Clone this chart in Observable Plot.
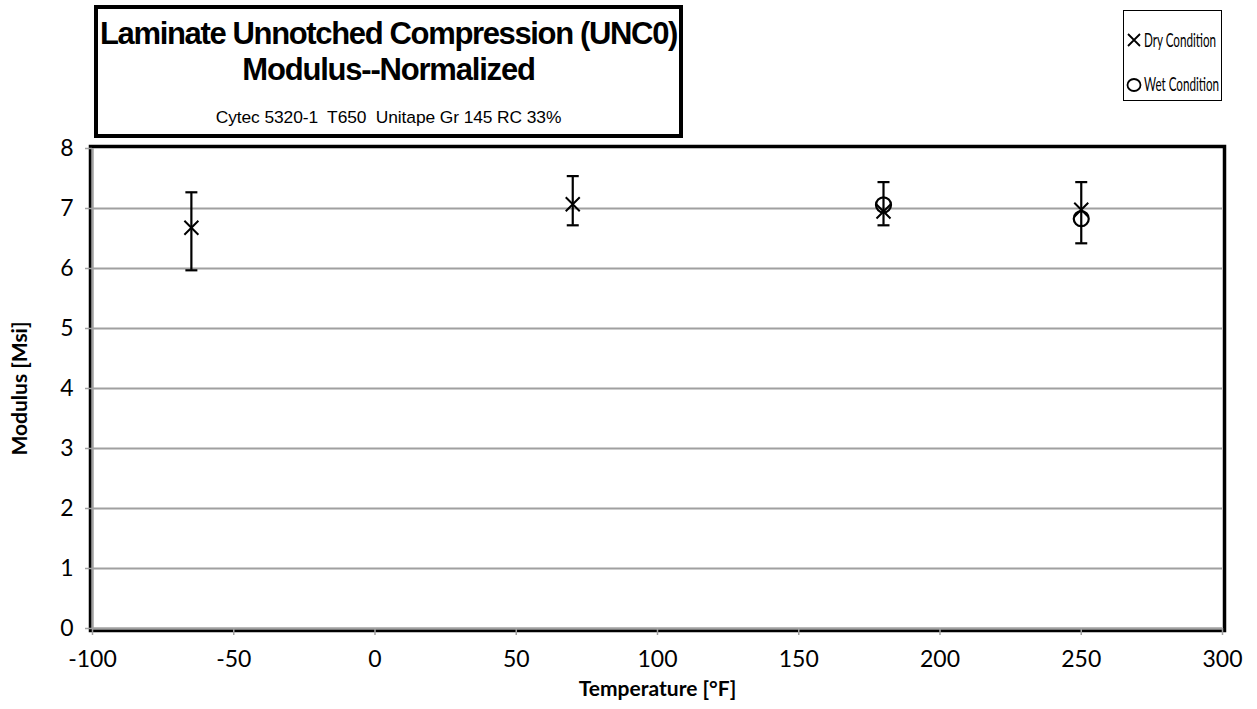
<!DOCTYPE html>
<html>
<head>
<meta charset="utf-8">
<script src="https://cdn.jsdelivr.net/npm/d3@7"></script>
<script src="https://cdn.jsdelivr.net/npm/@observablehq/plot@0.6"></script>
<style>
  html, body { margin: 0; padding: 0; background: #fff; }
  #wrap { position: relative; width: 1257px; height: 709px; overflow: hidden; }
  #wrap > svg { position: absolute; left: 0; top: 0; }
  #titlebox {
    position: absolute; left: 94px; top: 5px; width: 581px; height: 125px;
    border: 4.5px solid #000; background: #fff; text-align: center;
    font-family: "Liberation Sans", Arial, sans-serif; color: #000;
  }
  #titlebox .t1 { font-weight: bold; font-size: 31px; line-height: 36px; margin-top: 7px; letter-spacing: -1.35px; white-space: nowrap; }
  #titlebox .t2 { font-weight: bold; font-size: 31px; line-height: 36px; letter-spacing: -1.2px; }
  #titlebox .t3 { font-size: 17.4px; line-height: 24px; margin-top: 17px; white-space: pre; letter-spacing: -0.1px; }
  #legend {
    position: absolute; left: 1123px; top: 10px; width: 97px; height: 89px;
    border: 1.5px solid #000; background: #fff;
  }
  #legend svg { position: absolute; left: 0; top: 0; }
</style>
</head>
<body>
<div id="wrap">
  <div id="titlebox">
    <div class="t1">Laminate Unnotched Compression (UNC0)</div>
    <div class="t2">Modulus--Normalized</div>
    <div class="t3">Cytec 5320-1  T650  Unitape Gr 145 RC 33%</div>
  </div>
  <div id="legend">
    <svg width="97" height="89" font-family="Lato, 'Open Sans', sans-serif" font-size="18.5">
      <path d="M4,23L16,35M4,35L16,23" stroke="#000" stroke-width="1.8"/>
      <g transform="translate(20,36) scale(0.63,1)"><text x="0" y="0">Dry Condition</text></g>
      <ellipse cx="10" cy="74" rx="6.5" ry="6" fill="none" stroke="#000" stroke-width="1.8"/>
      <g transform="translate(20,80) scale(0.63,1)"><text x="0" y="0">Wet Condition</text></g>
    </svg>
  </div>
</div>
<script>
// Temperature axis ticks and modulus axis ticks
const tempTicks = [-100, -50, 0, 50, 100, 150, 200, 250, 300];
const modTicks = [0, 1, 2, 3, 4, 5, 6, 7, 8];

// Dry condition mean modulus values
const dryTemp = [-65, 70, 180, 250];
const dryMod = [6.68, 7.07, 6.95, 6.98];

// Wet condition mean modulus values
const wetTemp = [180, 250];
const wetMod = [7.06, 6.83];

// Error bars (min/max range) at each test temperature
const errTemp = [-65, 70, 180, 250];
const errLow = [5.97, 6.72, 6.72, 6.42];
const errHigh = [7.27, 7.54, 7.44, 7.44];

const dry = dryTemp.map((t, i) => ({ t, m: dryMod[i] }));
const wet = wetTemp.map((t, i) => ({ t, m: wetMod[i] }));
const err = errTemp.map((t, i) => ({ t, lo: errLow[i], hi: errHigh[i] }));

// Custom marker shapes with fixed pixel sizes
const capSymbol = { draw(ctx) { ctx.moveTo(-6, 0); ctx.lineTo(6, 0); } };
const timesSymbol = { draw(ctx) { const s = 7; ctx.moveTo(-s, -s); ctx.lineTo(s, s); ctx.moveTo(-s, s); ctx.lineTo(s, -s); } };
const ringSymbol = { draw(ctx) { ctx.moveTo(7.5, 0); ctx.arc(0, 0, 7.5, 0, 2 * Math.PI); } };

const gray = "#a0a0a0";
const fmt = d => String(d); // plain hyphen for negatives
const chart = Plot.plot({
  width: 1257,
  height: 709,
  marginLeft: 92,
  marginRight: 35,
  marginTop: 148,
  marginBottom: 81,
  style: { fontFamily: "Lato, 'Open Sans', sans-serif", fontSize: "23px", background: "transparent", overflow: "visible" },
  x: { domain: [-100, 300], ticks: tempTicks },
  y: { domain: [0, 8], ticks: modTicks },
  marks: [
    Plot.ruleY(modTicks.filter(v => v > 0 && v < 8), { stroke: gray, strokeWidth: 2 }),
    Plot.frame({ stroke: "#000", strokeWidth: 3.5, inset: -2 }),
    Plot.ruleX([-100], { stroke: gray, strokeWidth: 2.5 }),
    Plot.ruleY([0], { stroke: gray, strokeWidth: 2.5 }),
    Plot.axisX({ ticks: tempTicks, tickFormat: fmt, tickSize: 7, tickPadding: 15, stroke: gray, strokeWidth: 1.5, fill: "#000", label: null }),
    Plot.axisY({ ticks: modTicks, tickFormat: fmt, tickSize: 7, tickPadding: 12, stroke: gray, strokeWidth: 1.5, fill: "#000", label: null }),
    Plot.text(["Temperature [°F]"], { frameAnchor: "bottom", textAnchor: "middle", dy: 67, fontWeight: "bold", fontSize: 21, fill: "#000" }),
    Plot.text(["Modulus [Msi]"], { frameAnchor: "left", textAnchor: "middle", dx: -72, rotate: -90, fontWeight: "bold", fontSize: 21, fill: "#000" }),
    Plot.ruleX(err, { x: "t", y1: "lo", y2: "hi", stroke: "#000", strokeWidth: 2.2 }),
    Plot.dot(err, { x: "t", y: "lo", symbol: capSymbol, stroke: "#000", strokeWidth: 2.2 }),
    Plot.dot(err, { x: "t", y: "hi", symbol: capSymbol, stroke: "#000", strokeWidth: 2.2 }),
    Plot.dot(dry, { x: "t", y: "m", symbol: timesSymbol, stroke: "#000", strokeWidth: 2 }),
    Plot.dot(wet, { x: "t", y: "m", symbol: ringSymbol, stroke: "#000", strokeWidth: 2.2, fill: "none" })
  ]
});
document.getElementById("wrap").prepend(chart);
</script>
</body>
</html>
